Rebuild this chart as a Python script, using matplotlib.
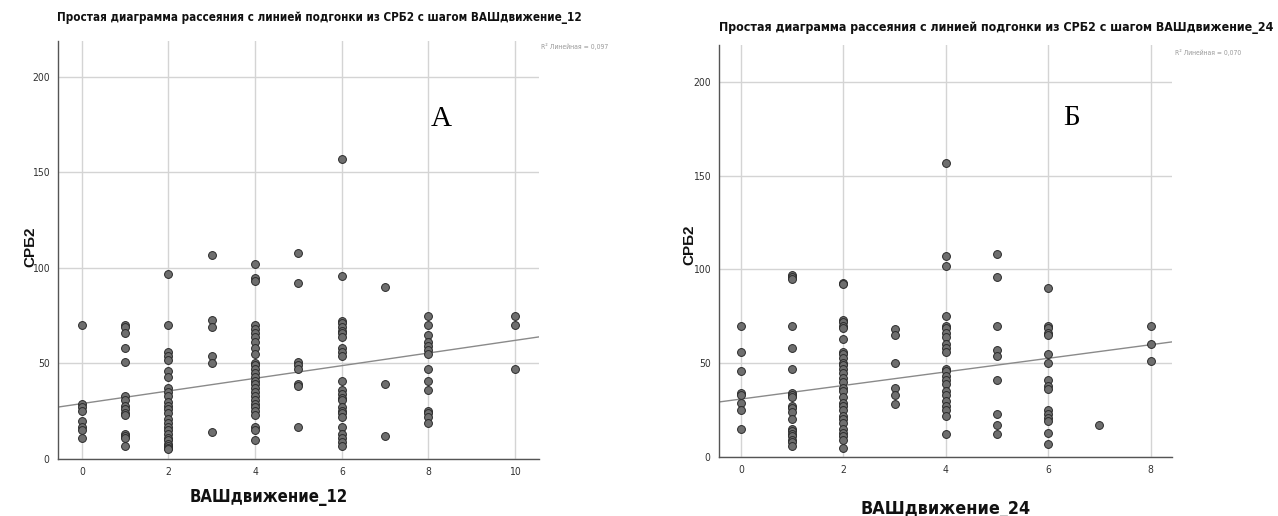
import matplotlib
matplotlib.use("Agg")
import matplotlib.pyplot as plt
import numpy as np
from matplotlib.transforms import Bbox

# ---------------- data ----------------
# Panel A: СРБ2 vs ВАШдвижение_12
vas12_x = ([0] * 8 + [1] * 15 + [2] * 25 + [3] * 6 + [4] * 28 + [5] * 8 +
           [6] * 25 + [7] * 3 + [8] * 14 + [10] * 3)
crp_a = [70, 29, 27, 25, 20, 17, 15, 11,
         70, 69, 66, 58, 51, 33, 31, 28, 26, 24, 23, 13, 12, 11, 7,
         97, 70, 56, 54, 52, 46, 43, 37, 35, 33, 30, 28, 26, 24, 21, 19, 17, 15, 13, 11, 10, 8, 7, 6, 5,
         107, 73, 69, 54, 50, 14,
         102, 95, 93, 70, 68, 66, 64, 61, 58, 55, 50, 49, 47, 45, 43, 41, 39, 37, 35, 33, 31, 29, 27, 25, 23, 17, 15, 10,
         108, 92, 51, 49, 47, 39, 38, 17,
         157, 96, 72, 71, 69, 67, 66, 64, 58, 56, 54, 41, 36, 34, 32, 31, 27, 25, 24, 22, 17, 13, 11, 9, 7,
         90, 39, 12,
         75, 70, 65, 61, 59, 57, 55, 47, 41, 36, 25, 24, 22, 19,
         75, 70, 47]
fit_a = (29.0, 3.31)          # intercept, slope
r2_a = "R² Линейная = 0,097"

# Panel Б: СРБ2 vs ВАШдвижение_24
vas24_x = ([0] * 8 + [1] * 20 + [2] * 30 + [3] * 6 + [4] * 23 + [5] * 9 +
           [6] * 16 + [7] * 1 + [8] * 3)
crp_b = [70, 56, 46, 34, 33, 29, 25, 15,
         97, 96, 95, 70, 58, 47, 34, 33, 32, 27, 26, 24, 20, 15, 14, 12, 11, 9, 8, 6,
         93, 92, 73, 72, 70, 69, 63, 56, 55, 53, 50, 49, 47, 45, 42, 40, 37, 35, 32, 29, 27, 25, 22, 20, 18, 15, 13, 11, 9, 5,
         68, 65, 50, 37, 33, 28,
         157, 107, 102, 75, 70, 69, 66, 64, 60, 58, 56, 47, 46, 43, 41, 39, 35, 33, 30, 27, 25, 22, 12,
         108, 96, 70, 57, 54, 41, 23, 17, 12,
         90, 70, 69, 66, 65, 55, 50, 41, 38, 36, 25, 23, 21, 19, 13, 7,
         17,
         70, 60, 51]
fit_b = (30.9, 3.62)
r2_b = "R² Линейная = 0,070"

yticks = [0, 50, 100, 150, 200]
xticks_a = [0, 2, 4, 6, 8, 10]
xticks_b = [0, 2, 4, 6, 8]

title_a = "Простая диаграмма рассеяния с линией подгонки из СРБ2 с шагом ВАШдвижение_12"
title_b = "Простая диаграмма рассеяния с линией подгонки из СРБ2 с шагом ВАШдвижение_24"
ylabel = "СРБ2"
xlabel_a = "ВАШдвижение_12"
xlabel_b = "ВАШдвижение_24"
letter_a = "А"
letter_b = "Б"

# ---------------- figure ----------------
W, H = 1278, 516
DPI = 100
fig = plt.figure(figsize=(W / DPI, H / DPI), dpi=DPI)
renderer = fig.canvas.get_renderer()

NARROW = ["DejaVu Sans", "Liberation Sans"]
SANS = ["Liberation Sans", "DejaVu Sans"]


def px(x, y):
    return x / W, 1 - y / H


def fit_width(t, target):
    """scale a text's font size so its rendered width is about target px"""
    w = t.get_window_extent(renderer).width
    if w > 0:
        t.set_fontsize(t.get_fontsize() * target / w)


def make_panel(rect_px, xs, ys, fit, xlim, ylim, xticks, letter, letter_pos):
    x0, y0, x1, y1 = rect_px
    ax = fig.add_axes([x0 / W, 1 - y1 / H, (x1 - x0) / W, (y1 - y0) / H])
    ax.set_xlim(*xlim)
    ax.set_ylim(*ylim)
    ax.set_xticks(xticks)
    ax.set_yticks(yticks)
    ax.grid(True, color="#d4d4d4", linewidth=1.0)
    ax.set_axisbelow(True)
    for s in ("top", "right"):
        ax.spines[s].set_visible(False)
    for s in ("left", "bottom"):
        ax.spines[s].set_color("#555555")
        ax.spines[s].set_linewidth(1.0)
    ax.tick_params(length=0, pad=6, labelsize=7.5, labelcolor="#333333")
    for lab in ax.get_xticklabels() + ax.get_yticklabels():
        lab.set_family(NARROW)
        lab.set_fontstretch("condensed")
    xx = np.array(xlim)
    ax.plot(xx, fit[0] + fit[1] * xx, color="#8a8a8a", linewidth=1.0, zorder=2)
    ax.scatter(xs, ys, s=32, facecolor="#6e6e6e", edgecolor="#2a2a2a",
               linewidth=0.7, zorder=3)
    ax.text(letter_pos[0], letter_pos[1], letter, family=["Liberation Serif", "DejaVu Serif"],
            fontsize=21, ha="center", va="center", color="black")
    return ax


make_panel((58, 41, 539, 459), vas12_x, crp_a, fit_a, (-0.55, 10.55),
           (0, 218.8), xticks_a, letter_a, (8.3, 178))
make_panel((719, 45, 1172, 457), vas24_x, crp_b, fit_b, (-0.43, 8.42),
           (0, 219.7), xticks_b, letter_b, (6.45, 181))

# titles
ta = fig.text(*px(319, 18), title_a, family=NARROW, weight="bold", fontsize=10,
              fontstretch="condensed", ha="center", va="center", color="#111111")
tb = fig.text(*px(996, 27), title_b, family=NARROW, weight="bold", fontsize=10,
              fontstretch="condensed", ha="center", va="center", color="#111111")
fit_width(ta, 518)
fit_width(tb, 556)

# y labels
fig.text(*px(30, 247), ylabel, family=SANS, weight="bold", fontsize=11,
         rotation=90, ha="center", va="center", color="#111111")
fig.text(*px(689, 245), ylabel, family=SANS, weight="bold", fontsize=11,
         rotation=90, ha="center", va="center", color="#111111")

# x labels
xa = fig.text(*px(269, 497), xlabel_a, family=NARROW, weight="bold", fontsize=15,
              fontstretch="condensed", ha="center", va="center", color="#111111")
xb = fig.text(*px(946, 514), xlabel_b, family=NARROW, weight="bold", fontsize=15,
              fontstretch="condensed", ha="center", va="baseline", color="#111111")
fit_width(xa, 158)
fit_width(xb, 170)

# R² annotations, clipped at the top like the source
for (tx, ty, clip_top, s, wd) in [(541, 47, 42, r2_a, 68), (1175, 52, 47, r2_b, 66)]:
    t = fig.text(*px(tx, ty), s, family=NARROW, fontsize=7, ha="left",
                 fontstretch="condensed", va="center", color="#9a9a9a")
    fit_width(t, wd)
    t.set_clip_box(Bbox.from_extents(tx - 5, 0, W, H - clip_top))
    t.set_clip_on(True)

fig.savefig("out.png", dpi=DPI)
